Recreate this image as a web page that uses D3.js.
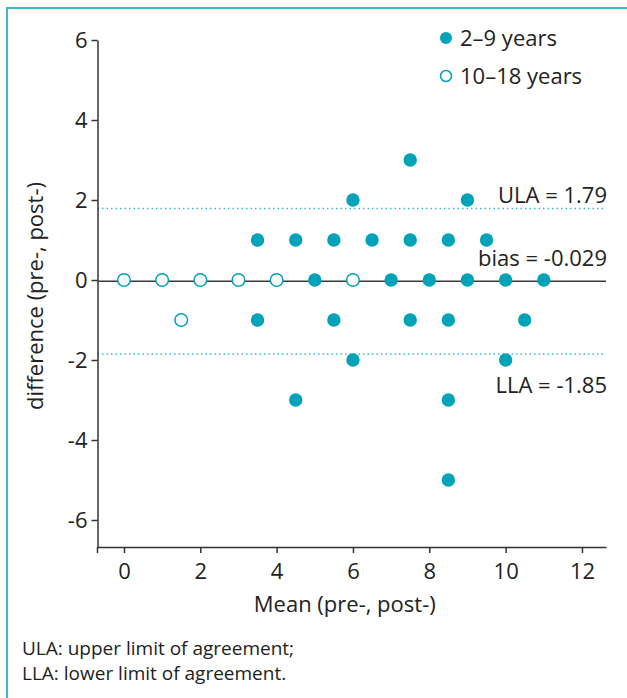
<!DOCTYPE html>
<html>
<head>
<meta charset="utf-8">
<script src="https://cdn.jsdelivr.net/npm/d3@7"></script>
<style>
  html, body { margin: 0; padding: 0; background: #fff; }
  svg { display: block; }
</style>
</head>
<body>
<div id="chart"></div>
<script>
// Puntos del grupo 2–9 años (rellenos)
const youngMean = [3.5, 4.5, 5.5, 6.5, 7.5, 8.5, 9.5, 6, 9, 7.5, 5, 7, 8, 9, 10, 11, 3.5, 5.5, 7.5, 8.5, 10.5, 6, 10, 4.5, 8.5, 8.5];
const youngDiff = [1, 1, 1, 1, 1, 1, 1, 2, 2, 3, 0, 0, 0, 0, 0, 0, -1, -1, -1, -1, -1, -2, -2, -3, -3, -5];

// Puntos del grupo 10–18 años (vacíos)
const olderMean = [0, 1, 2, 3, 4, 6, 1.5];
const olderDiff = [0, 0, 0, 0, 0, 0, -1];

// Límites de acuerdo
const bias = -0.029;
const ula = 1.79;
const lla = -1.85;

const xTicks = [0, 2, 4, 6, 8, 10, 12];
const yTicks = [-6, -4, -2, 0, 2, 4, 6];
const legendLabels = ['2–9 years', '10–18 years'];

const W = 627, H = 698;
const teal = '#02a2b8';
const font = "'Open Sans', 'DejaVu Sans', sans-serif";

const x = d3.scaleLinear().domain([-0.694, 12.63]).range([97.5, 606]);
const y = d3.scaleLinear().domain([-6.675, 6]).range([547, 40]);

const svg = d3.select('#chart')
  .append('svg')
  .attr('width', W)
  .attr('height', H)
  .style('font-family', font);

// Marco (arriba e izquierda)
svg.append('path')
  .attr('d', `M7,${H}V8H${W}`)
  .attr('fill', 'none')
  .attr('stroke', '#45b5c9')
  .attr('stroke-width', 2);

// Líneas punteadas ULA / LLA
svg.selectAll('.limit')
  .data([ula, lla])
  .enter()
  .append('line')
  .attr('class', 'limit')
  .attr('x1', x.range()[0])
  .attr('x2', x.range()[1])
  .attr('y1', d => y(d))
  .attr('y2', d => y(d))
  .attr('stroke', '#38b9cf')
  .attr('stroke-width', 1.5)
  .attr('stroke-dasharray', '1.5,3');

// Línea de sesgo
svg.append('line')
  .attr('x1', x.range()[0])
  .attr('x2', x.range()[1])
  .attr('y1', y(bias))
  .attr('y2', y(bias))
  .attr('stroke', '#3a3a3a')
  .attr('stroke-width', 1.5);

// Eje x
const xAxis = svg.append('g')
  .attr('transform', `translate(0,${y.range()[0]})`)
  .call(d3.axisBottom(x).tickValues(xTicks).tickFormat(d => String(d)).tickSize(6).tickSizeOuter(0).tickPadding(10));

xAxis.append('line')
  .attr('x1', x.range()[0])
  .attr('x2', x.range()[0])
  .attr('y1', 0)
  .attr('y2', 6)
  .attr('stroke', '#333')
  .attr('stroke-width', 1.5);

// Eje y
const yAxis = svg.append('g')
  .attr('transform', `translate(${x.range()[0]},0)`)
  .call(d3.axisLeft(y).tickValues(yTicks).tickFormat(d => String(d)).tickSize(6).tickSizeOuter(0).tickPadding(4));

svg.selectAll('.domain, .tick line')
  .attr('stroke', '#333')
  .attr('stroke-width', 1.5);
svg.selectAll('.tick text')
  .style('font-family', font)
  .style('font-size', '22px')
  .attr('fill', '#222');

// Títulos de ejes
svg.append('text')
  .attr('x', (x.range()[0] + x.range()[1]) / 2 - 7)
  .attr('y', 612)
  .attr('text-anchor', 'middle')
  .attr('fill', '#222')
  .style('font-size', '22px')
  .text('Mean (pre-, post-)');

svg.append('text')
  .attr('transform', 'rotate(-90)')
  .attr('x', -296)
  .attr('y', 43)
  .attr('text-anchor', 'middle')
  .attr('fill', '#222')
  .style('font-size', '22px')
  .text('difference (pre-, post-)');

// Puntos 10–18 años
svg.selectAll('.older')
  .data(olderMean)
  .enter()
  .append('circle')
  .attr('class', 'older')
  .attr('cx', d => x(d))
  .attr('cy', (d, i) => y(olderDiff[i]))
  .attr('r', 6.3)
  .attr('fill', '#fff')
  .attr('stroke', teal)
  .attr('stroke-width', 1.5);

// Puntos 2–9 años
svg.selectAll('.young')
  .data(youngMean)
  .enter()
  .append('circle')
  .attr('class', 'young')
  .attr('cx', d => x(d))
  .attr('cy', (d, i) => y(youngDiff[i]))
  .attr('r', 6.7)
  .attr('fill', teal);

// Etiquetas de límites
const limitLabels = [
  { v: ula, dy: -5, t: 'ULA = 1.79' },
  { v: bias, dy: -15, t: 'bias = -0.029' },
  { v: lla, dy: 39, t: 'LLA = -1.85' },
];
svg.selectAll('.limit-label')
  .data(limitLabels)
  .enter()
  .append('text')
  .attr('class', 'limit-label')
  .attr('x', x.range()[1] + 1)
  .attr('y', d => y(d.v) + d.dy)
  .attr('text-anchor', 'end')
  .attr('fill', '#222')
  .style('font-size', '22px')
  .text(d => d.t);

// Leyenda
const legend = svg.append('g')
  .attr('transform', 'translate(446,38)');

const legendItem = legend.selectAll('.legend-item')
  .data(legendLabels)
  .enter()
  .append('g')
  .attr('class', 'legend-item')
  .attr('transform', (d, i) => `translate(0,${i * 38})`);

legendItem.append('circle')
  .attr('r', (d, i) => i === 0 ? 6 : 5.5)
  .attr('fill', (d, i) => i === 0 ? teal : '#fff')
  .attr('stroke', teal)
  .attr('stroke-width', (d, i) => i === 0 ? 0 : 1.5);

legendItem.append('text')
  .attr('x', 14)
  .attr('y', 8)
  .attr('fill', '#222')
  .style('font-size', '22px')
  .text(d => d);

// Nota al pie
svg.selectAll('.note')
  .data(['ULA: upper limit of agreement;', 'LLA: lower limit of agreement.'])
  .enter()
  .append('text')
  .attr('class', 'note')
  .attr('x', 22)
  .attr('y', (d, i) => 655 + i * 25)
  .attr('fill', '#222')
  .style('font-size', '19px')
  .text(d => d);
</script>
</body>
</html>
